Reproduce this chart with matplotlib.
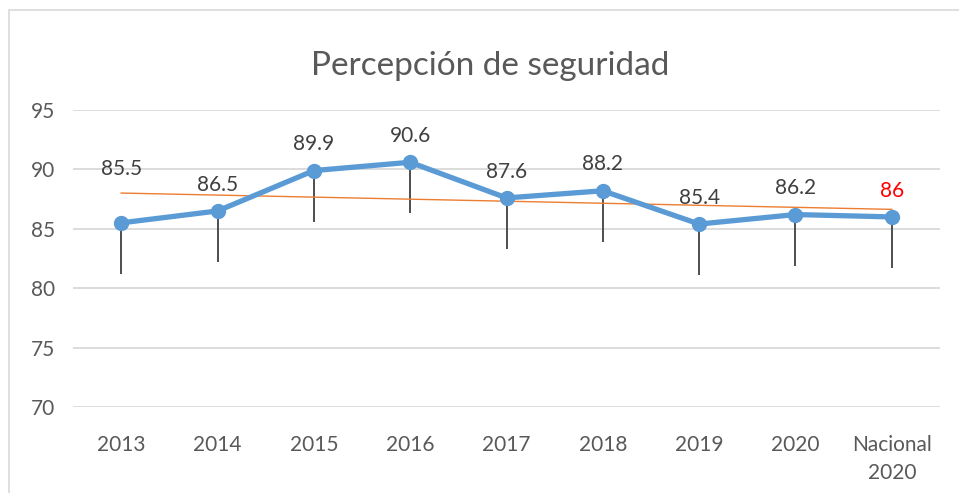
import numpy as np
import matplotlib.pyplot as plt
from matplotlib.patches import Rectangle

plt.rcParams['font.family'] = ['Lato', 'DejaVu Sans']

categories = ['2013', '2014', '2015', '2016', '2017', '2018', '2019', '2020', 'Nacional\n2020']
values = [85.5, 86.5, 89.9, 90.6, 87.6, 88.2, 85.4, 86.2, 86.0]
labels = ['85.5', '86.5', '89.9', '90.6', '87.6', '88.2', '85.4', '86.2', '86']
err_down = [4.3, 4.3, 4.3, 4.3, 4.3, 4.3, 4.3, 4.3, 4.3]

fig = plt.figure(figsize=(9.59, 4.93), dpi=100)
ax = fig.add_axes([73 / 959, 1 - 407 / 493, 867 / 959, 297 / 493])

x = np.arange(len(categories))

# error bars (down only)
ax.errorbar(x, values, yerr=[err_down, np.zeros(len(x))], fmt='none',
            ecolor='#404040', elinewidth=1.3, capsize=0, zorder=2)

# linear trendline
coef = np.polyfit(x, values, 1)
ax.plot(x, np.polyval(coef, x), color='#ED7D31', lw=1.0, zorder=3)

ax.plot(x, values, color='#5B9BD5', lw=3.8, marker='o', markersize=10,
        zorder=4, solid_capstyle='round')

for i, (v, t) in enumerate(zip(values, labels)):
    col = 'red' if i == len(values) - 1 else '#404040'
    off = 39 if i == 0 else 19   # first label sits higher, above the trendline
    ax.annotate(t, (i, v), xytext=(0, off), textcoords='offset points',
                ha='center', va='center', fontsize=15, color=col)

ax.set_xlim(-0.5, len(categories) - 0.5)
ax.set_ylim(70, 95)
ax.set_yticks([70, 75, 80, 85, 90, 95])
ax.set_xticks(x)
ax.set_xticklabels(categories, linespacing=1.5)
ax.grid(axis='y', color='#D9D9D9', lw=1.3)
ax.set_axisbelow(True)
for s in ax.spines.values():
    s.set_visible(False)
ax.tick_params(length=0, labelsize=15, colors='#595959')
ax.tick_params(axis='y', pad=13)
ax.tick_params(axis='x', pad=20)

fig.text(490 / 959, 1 - 66 / 493, 'Percepción de seguridad', ha='center', va='center',
         fontsize=24, color='#595959')

fig.patches.append(Rectangle((9 / 959, -0.1), 1.2, 1 - 10 / 493 + 0.1,
                             transform=fig.transFigure, fill=False,
                             edgecolor='#D9D9D9', lw=1.2))

fig.savefig('out.png', dpi=100)
